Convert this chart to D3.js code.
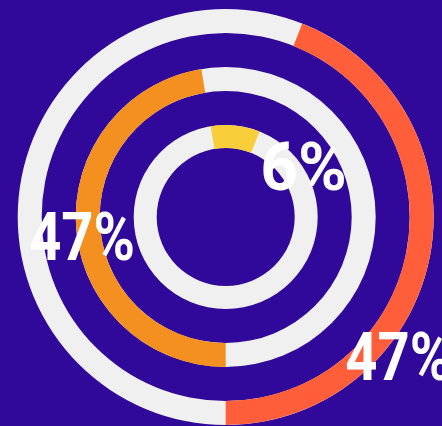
<!DOCTYPE html>
<html><head><meta charset="utf-8">
<script src="https://cdn.jsdelivr.net/npm/d3@7/dist/d3.min.js"></script>
<style>html,body{margin:0;padding:0;background:#30089a;overflow:hidden}</style>
</head><body>
<svg id="c" width="442" height="426"></svg>
<script>
// Data
const categories = ["Outer", "Middle", "Inner"];
const values = [44, 47.4, 8.6];          // share of the full circle swept by each coloured arc
const labels = ["47%", "47%", "6%"];
const colors = ["#ff5e3a", "#f39020", "#f8cf3a"];

const W = 442, H = 426;
const cx = 225.7, cy = 217;
const track = "#f0f0f0";
const rings = [ {inner: 184, outer: 208}, {inner: 126, outer: 150}, {inner: 69, outer: 92} ];
const startDeg = 21.6;

const svg = d3.select("#c");
svg.append("rect").attr("width", W).attr("height", H).attr("fill", "#30089a");
const g = svg.append("g").attr("transform", `translate(${cx},${cy})`);

const pie = d3.pie().sort(null).value(d => d)
  .startAngle(startDeg * Math.PI / 180)
  .endAngle(startDeg * Math.PI / 180 + 2 * Math.PI);
const slices = pie(values);

categories.forEach((c, i) => {
  const r = rings[i];
  const arc = d3.arc().innerRadius(r.inner).outerRadius(r.outer);
  g.append("path").attr("d", arc({startAngle: 0, endAngle: 2 * Math.PI})).attr("fill", track);
  g.append("path").attr("d", arc(slices[i])).attr("fill", colors[i]);
});

// label placement (polar: degrees clockwise from top, radius) and horizontal squeeze
const labelPolar = [ {a: 129, r: 222, sx: 0.85}, {a: 262, r: 145, sx: 0.85}, {a: 57.3, r: 92.5, sx: 1.0} ];
labels.forEach((t, i) => {
  const a = labelPolar[i].a * Math.PI / 180;
  const x = Math.sin(a) * labelPolar[i].r;
  const y = -Math.cos(a) * labelPolar[i].r;
  g.append("text")
    .attr("transform", `translate(${x},${y + 23}) scale(${labelPolar[i].sx},1)`)
    .attr("text-anchor", "middle")
    .attr("font-family", "Roboto, sans-serif")
    .attr("font-weight", 700)
    .attr("font-size", 66)
    .attr("fill", "#ffffff")
    .text(t);
});
</script>
</body></html>
